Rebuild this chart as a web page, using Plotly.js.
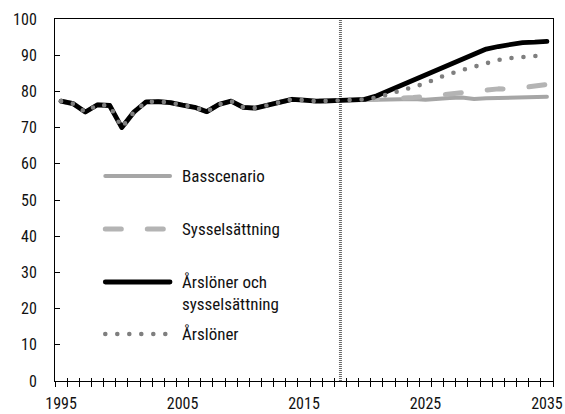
<!DOCTYPE html>
<html>
<head>
<meta charset="utf-8">
<script src="https://cdn.plot.ly/plotly-3.0.1.min.js"></script>
<style>
  html, body { margin: 0; padding: 0; background: #fff; }
  #chart { width: 565px; height: 414px; }
  .scatterlayer .js-line { stroke-linecap: round; stroke-linejoin: round; }
  .layer-above .shapelayer path { stroke-linecap: round; }
</style>
</head>
<body>
<div id="chart"></div>
<script>
// ---- Data ----
const years = [1995,1996,1997,1998,1999,2000,2001,2002,2003,2004,2005,2006,2007,2008,2009,2010,
  2011,2012,2013,2014,2015,2016,2017,2018,2019,2020,2021,2022,2023,2024,2025,2026,2027,2028,
  2029,2030,2031,2032,2033,2034,2035];
// Shared history 1995-2018
const history = [77.3,76.6,74.3,76.3,76.1,70.0,74.3,77.1,77.2,76.9,76.2,75.6,74.4,76.4,77.3,75.6,
  75.4,76.3,77.1,77.8,77.6,77.3,77.4,77.5];
// Projections 2019-2035
const basscenario = [77.5,77.5,77.6,77.7,77.8,77.9,77.7,78.0,78.2,78.3,77.9,78.1,78.2,78.2,78.3,78.4,78.5];
const sysselsattning = [77.5,77.6,77.7,77.9,78.1,78.3,78.6,79.0,79.4,79.5,80.1,80.6,80.7,80.6,81.0,81.4,81.9];
const arsloneroch = [77.5,77.8,78.8,80.2,81.6,83.1,84.5,85.9,87.4,88.8,90.3,91.7,92.4,93.1,93.5,93.6,93.8];
const arsloner = [77.5,77.8,78.3,79.3,80.2,81.0,82.2,83.7,84.9,85.9,86.8,87.9,88.7,89.2,89.6,89.8,89.7];
const seriesNames = ['Basscenario','Sysselsättning','Årslöner och<br>sysselsättning','Årslöner'];
const forecastStart = 2018;
const xLabels = [1995, 2005, 2015, 2025, 2035];

// ---- Styles ----
const FONT = '"Roboto Condensed", "DejaVu Sans Condensed", sans-serif';
const styles = [
  {color: '#a6a6a6', width: 4, dash: 'solid'},
  {color: '#b4b4b4', width: 5, dash: '16px,26px'},
  {color: '#000000', width: 4.8, dash: 'solid'},
  {color: '#7f7f7f', width: 4.6, dash: '0px,12px'}
];
const seriesData = [basscenario, sysselsattning, arsloneroch, arsloner];

const traces = seriesData.map((s, i) => ({
  type: 'scatter', mode: 'lines',
  x: years, y: history.concat(s),
  name: seriesNames[i],
  line: styles[i],
  xaxis: i === 3 ? 'x2' : 'x',
  showlegend: false, hoverinfo: 'skip'
}));

// ---- Manual legend (positions in paper coords) ----
const legendRows = [0.5663, 0.4199, 0.2735, 0.1298];
const legX0 = 0.101, legX1 = 0.231, legTextX = 0.251;
const shapes = [{
  type: 'line', xref: 'x', yref: 'paper', x0: forecastStart, x1: forecastStart, y0: 0, y1: 1,
  line: {color: '#6a6a6a', width: 3, dash: '1px,1px'}, layer: 'below'
}];
const annotations = [];
legendRows.forEach((yy, i) => {
  shapes.push({
    type: 'line', xref: 'paper', yref: 'paper', x0: legX0, x1: legX1, y0: yy, y1: yy,
    line: styles[i], layer: 'above'
  });
  annotations.push({
    xref: 'paper', yref: 'paper', x: legTextX, y: i === 2 ? yy - 0.031 : yy,
    xanchor: 'left', yanchor: 'middle', align: 'left', showarrow: false,
    text: seriesNames[i], font: {family: FONT, size: 17, color: '#111'}
  });
});

const layout = {
  width: 565, height: 414,
  margin: {l: 55, r: 12, t: 19, b: 33, pad: 0},
  paper_bgcolor: '#fff', plot_bgcolor: '#fff',
  font: {family: FONT, size: 16, color: '#111'},
  showlegend: false,
  xaxis: {
    range: [1994.5, 2035.5], tickmode: 'array', tickvals: xLabels,
    ticks: '', showgrid: false, zeroline: false,
    showline: true, mirror: true, linecolor: '#000', linewidth: 1,
    ticklabelstandoff: 8, ticklabeloverflow: 'allow',
    tickfont: {family: FONT, size: 16, color: '#111'},
    minor: {tickmode: 'linear', tick0: 1994.5, dtick: 1, ticks: 'outside', ticklen: 5, tickcolor: '#000', tickwidth: 1, showgrid: false}
  },
  xaxis2: {
    overlaying: 'x', matches: 'x', anchor: 'y', side: 'bottom',
    range: [1994.5, 2035.5], tickmode: 'linear', tick0: 1994.5, dtick: 1,
    ticks: 'inside', ticklen: 3.5, tickcolor: '#000', tickwidth: 1,
    showticklabels: false, showgrid: false, zeroline: false, showline: false
  },
  yaxis: {
    range: [0, 100], tickmode: 'linear', tick0: 0, dtick: 10,
    ticks: 'inside', ticklen: 5, tickcolor: '#000', tickwidth: 1,
    showgrid: false, zeroline: false,
    showline: true, mirror: true, linecolor: '#000', linewidth: 1,
    ticklabelstandoff: 14,
    tickfont: {family: FONT, size: 16, color: '#111'}
  },
  shapes: shapes,
  annotations: annotations
};

Plotly.newPlot('chart', traces, layout, {staticPlot: true, displayModeBar: false});
</script>
</body>
</html>
